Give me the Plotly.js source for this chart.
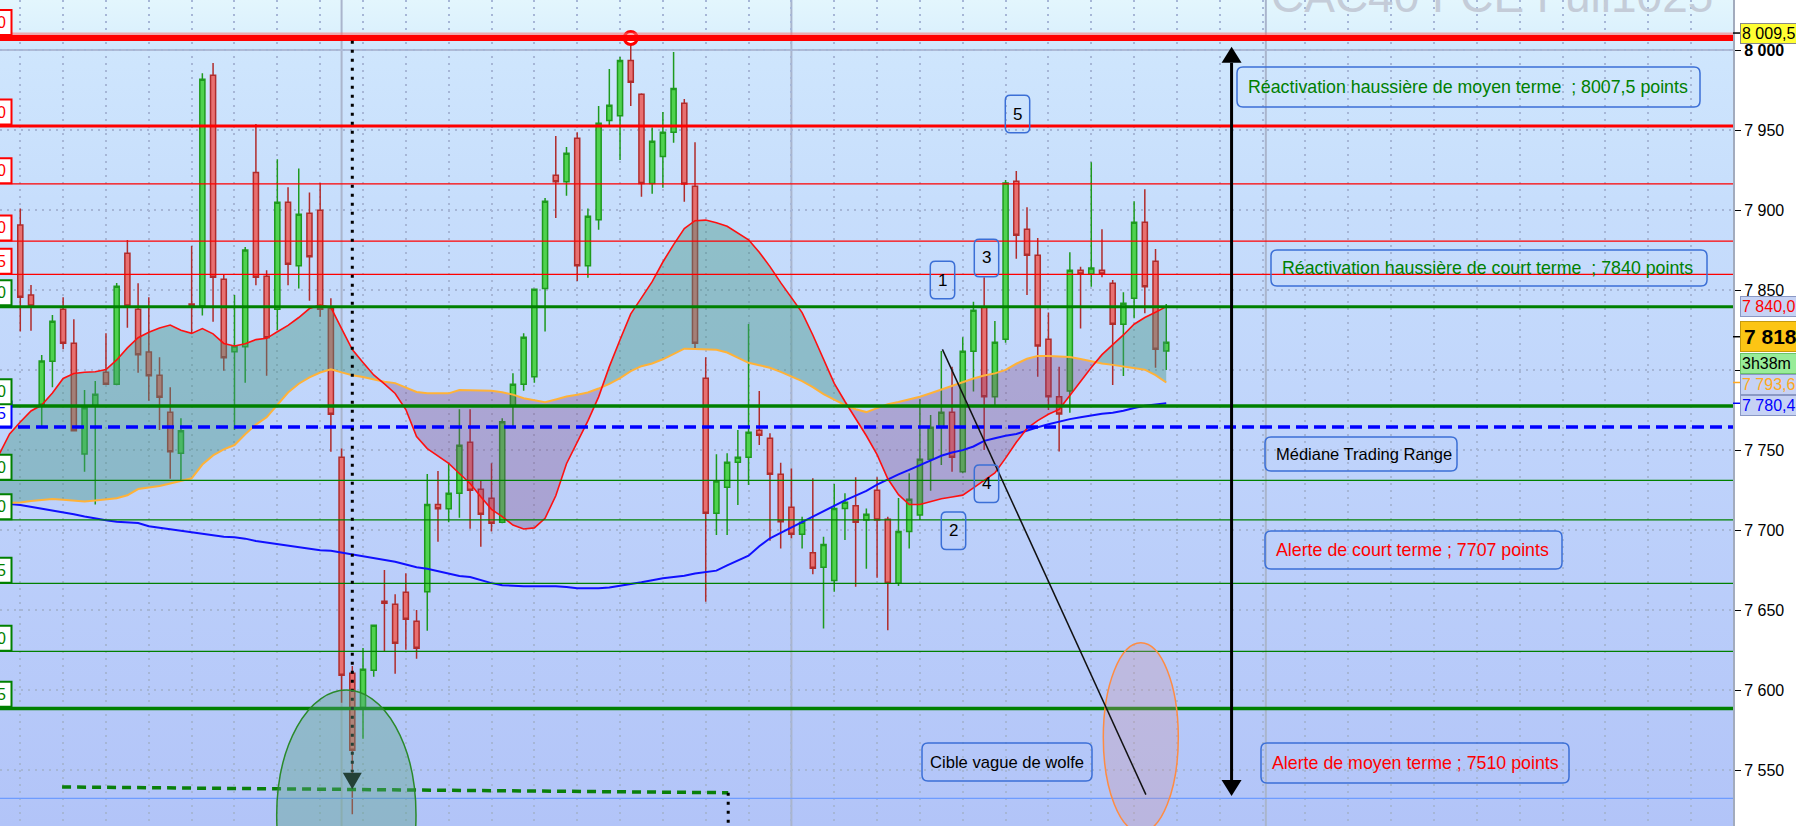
<!DOCTYPE html>
<html><head><meta charset="utf-8">
<script src="https://cdn.plot.ly/plotly-3.0.1.min.js"></script>
<style>
html,body{margin:0;padding:0;background:#fff;}
#chart{width:1796px;height:826px;
background:
 linear-gradient(to right, rgba(255,255,255,0) 1733px, #ffffff 1733px),
 linear-gradient(to bottom, #e3f6fd 0px, #dcf1fd 30px, #cfe6fd 46px, #c7defc 200px, #bed2fb 480px, #b2c4f8 826px);}
</style></head><body><div id="chart"></div>
<script>
// ---------- DATA ----------
const candleOpen = [7890.6, 7846.9, 7778.6, 7805.4, 7837.9, 7816.7, 7747.5, 7777.5, 7798.6, 7791.1,
 7872.9, 7837.9, 7811.3, 7796.7, 7773.6, 7747.9, 7841.3, 7840.0, 7984.2, 7856.7,
 7811.4, 7814.6, 7923.5, 7858.6, 7837.9, 7904.8, 7865.2, 7897.9, 7899.8, 7838.5,
 7745.4, 7610.4, 7589.0, 7612.3, 7655.4, 7653.6, 7661.1, 7642.9, 7661.4, 7716.0,
 7713.3, 7722.9, 7754.8, 7725.4, 7719.8, 7704.8, 7777.5, 7791.1, 7795.8, 7851.0,
 7921.7, 7917.7, 7944.8, 7865.2, 7893.9, 7956.0, 7958.9, 7993.5, 7972.3, 7916.5,
 7933.5, 7948.6, 7966.7, 7914.8, 7794.8, 7710.4, 7726.7, 7742.3, 7745.4, 7762.3,
 7757.3, 7734.8, 7714.2, 7697.3, 7685.8, 7676.7, 7668.5, 7713.5, 7715.2, 7706.3,
 7724.8, 7706.7, 7666.7, 7699.0, 7709.4, 7744.2, 7764.2, 7773.6, 7736.4, 7811.7,
 7839.2, 7783.3, 7819.2, 7917.9, 7887.9, 7871.7, 7819.2, 7783.3, 7786.9, 7862.3,
 7860.0, 7862.3, 7854.2, 7828.6, 7844.8, 7892.3, 7867.9, 7811.9];
const candleHigh = [7901.0, 7853.1, 7809.4, 7834.4, 7845.4, 7831.7, 7787.5, 7793.1, 7822.9, 7854.4,
 7881.3, 7854.2, 7845.4, 7807.9, 7789.2, 7769.8, 7877.5, 7985.4, 7991.9, 7859.8,
 7846.9, 7876.9, 7953.8, 7862.3, 7931.7, 7914.2, 7926.0, 7911.0, 7916.9, 7844.8,
 7751.0, 7615.0, 7626.3, 7641.0, 7675.0, 7659.8, 7672.9, 7650.0, 7735.0, 7736.9,
 7741.7, 7775.4, 7775.4, 7730.6, 7741.7, 7769.8, 7798.0, 7822.9, 7851.0, 7907.5,
 7946.3, 7939.4, 7948.6, 7901.0, 7965.0, 7988.1, 7995.6, 8007.5, 7972.9, 7951.5,
 7961.3, 7998.8, 7969.4, 7942.3, 7807.9, 7747.3, 7747.9, 7762.5, 7828.8, 7786.9,
 7760.4, 7742.1, 7738.5, 7708.3, 7732.3, 7695.8, 7728.8, 7722.9, 7732.9, 7713.5,
 7732.9, 7708.3, 7720.0, 7735.4, 7781.7, 7771.9, 7811.9, 7802.1, 7820.4, 7842.7,
 7858.0, 7830.6, 7918.8, 7924.4, 7901.7, 7882.5, 7836.0, 7802.0, 7873.6, 7864.6,
 7929.8, 7887.9, 7856.3, 7848.6, 7905.4, 7912.9, 7875.6, 7841.3];
const candleLow = [7824.0, 7824.6, 7764.6, 7789.2, 7812.9, 7761.5, 7736.4, 7716.0, 7790.6, 7790.5,
 7826.4, 7798.3, 7780.8, 7762.5, 7732.1, 7731.3, 7823.0, 7834.0, 7830.2, 7799.6,
 7762.5, 7792.0, 7853.0, 7796.4, 7825.0, 7853.0, 7851.0, 7843.3, 7833.3, 7748.9,
 7592.0, 7522.3, 7569.6, 7608.3, 7624.4, 7610.2, 7625.2, 7619.6, 7637.0, 7692.7,
 7704.8, 7707.7, 7700.8, 7689.6, 7699.0, 7704.2, 7764.6, 7787.1, 7792.0, 7824.0,
 7895.0, 7908.9, 7855.6, 7857.7, 7887.7, 7953.1, 7931.3, 7965.0, 7908.3, 7910.2,
 7913.9, 7942.1, 7905.2, 7812.5, 7655.2, 7696.9, 7696.9, 7715.6, 7728.1, 7753.1,
 7693.3, 7688.5, 7694.8, 7688.5, 7672.3, 7638.5, 7661.4, 7693.8, 7664.6, 7675.8,
 7670.2, 7637.3, 7665.0, 7688.5, 7706.3, 7724.6, 7740.6, 7736.4, 7735.4, 7786.5,
 7750.0, 7777.0, 7817.0, 7869.6, 7846.9, 7795.8, 7775.0, 7749.0, 7773.3, 7826.0,
 7852.0, 7858.0, 7790.6, 7796.3, 7832.3, 7835.4, 7801.4, 7800.0];
const candleClose = [7845.4, 7840.0, 7805.6, 7830.4, 7816.7, 7762.1, 7776.4, 7784.8, 7791.1, 7852.3,
 7840.0, 7809.6, 7796.4, 7782.9, 7748.9, 7762.1, 7840.0, 7981.7, 7857.9, 7807.7,
 7815.0, 7875.0, 7857.9, 7820.2, 7904.8, 7866.1, 7897.3, 7870.8, 7837.9, 7772.3,
 7609.2, 7562.3, 7612.9, 7640.4, 7654.2, 7629.2, 7644.2, 7626.1, 7716.0, 7713.3,
 7722.9, 7752.9, 7724.8, 7709.8, 7704.2, 7767.7, 7791.1, 7820.4, 7850.4, 7905.4,
 7917.7, 7935.4, 7865.2, 7896.1, 7954.2, 7965.4, 7993.5, 7979.8, 7916.5, 7942.9,
 7948.6, 7976.0, 7916.3, 7816.7, 7710.4, 7730.6, 7742.3, 7745.4, 7761.1, 7759.2,
 7734.8, 7705.2, 7697.3, 7704.8, 7676.1, 7691.0, 7713.5, 7717.3, 7704.8, 7709.8,
 7706.3, 7666.7, 7699.0, 7719.2, 7744.2, 7764.2, 7773.6, 7745.4, 7811.7, 7837.3,
 7783.3, 7817.3, 7916.9, 7884.2, 7871.7, 7815.0, 7783.3, 7772.5, 7862.3, 7860.0,
 7863.8, 7860.0, 7828.6, 7841.7, 7892.3, 7852.0, 7812.9, 7817.3];

// moving averages, one value per bar from bar -2 to bar 107
const maFast = [7746.9, 7760.0, 7767.5, 7774.4, 7778.1, 7785.6, 7794.7, 7797.8, 7798.6, 7798.9,
 7800.3, 7806.3, 7813.8, 7820.2, 7823.6, 7826.3, 7828.1, 7824.8, 7822.9, 7825.9,
 7822.6, 7816.6, 7815.0, 7816.4, 7819.0, 7819.8, 7823.9, 7827.9, 7832.8, 7838.4,
 7840.6, 7839.1, 7825.9, 7812.8, 7804.7, 7796.9, 7791.3, 7785.3, 7775.3, 7758.4,
 7750.9, 7746.1, 7741.6, 7735.3, 7729.1, 7720.8, 7712.9, 7708.4, 7703.1, 7700.6,
 7701.3, 7707.3, 7721.4, 7741.4, 7754.8, 7768.2, 7783.2, 7802.1, 7818.9, 7835.1,
 7845.1, 7855.2, 7867.5, 7878.4, 7888.4, 7893.3, 7893.7, 7892.0, 7889.8, 7885.7,
 7881.4, 7873.6, 7864.6, 7854.6, 7845.4, 7835.9, 7821.9, 7806.8, 7791.6, 7780.3,
 7769.4, 7758.9, 7747.1, 7732.0, 7722.1, 7715.9, 7715.9, 7717.8, 7719.5, 7720.6,
 7721.8, 7726.3, 7731.0, 7735.7, 7744.9, 7754.8, 7763.5, 7768.4, 7772.3, 7775.4,
 7784.1, 7793.1, 7801.6, 7809.6, 7815.6, 7821.9, 7828.6, 7832.8, 7836.1, 7839.6];
const maMid = [7716.9, 7716.9, 7717.2, 7718.1, 7718.6, 7719.4, 7718.9, 7718.3, 7717.8, 7718.4,
 7719.3, 7719.8, 7721.7, 7725.6, 7726.6, 7727.5, 7729.1, 7730.6, 7732.3, 7740.9,
 7746.6, 7750.4, 7753.1, 7759.8, 7765.9, 7770.4, 7778.4, 7785.9, 7791.4, 7795.4,
 7798.4, 7800.4, 7798.5, 7796.7, 7795.6, 7794.1, 7792.6, 7791.8, 7788.8, 7786.3,
 7785.4, 7785.4, 7785.4, 7787.5, 7787.4, 7787.3, 7787.1, 7786.1, 7784.6, 7782.3,
 7780.9, 7779.8, 7781.6, 7783.4, 7784.5, 7785.9, 7788.4, 7791.3, 7794.9, 7799.3,
 7802.4, 7804.1, 7806.7, 7809.9, 7813.3, 7813.2, 7812.8, 7812.6, 7810.9, 7807.6,
 7804.5, 7803.0, 7801.4, 7798.8, 7795.9, 7793.1, 7789.3, 7784.9, 7781.5, 7778.1,
 7775.5, 7773.7, 7776.2, 7778.6, 7780.0, 7781.5, 7783.3, 7785.5, 7787.9, 7790.1,
 7792.3, 7794.7, 7796.6, 7797.9, 7800.1, 7803.9, 7807.0, 7808.8, 7808.8, 7808.5,
 7808.1, 7806.9, 7805.4, 7804.0, 7803.2, 7802.3, 7801.3, 7800.2, 7796.8, 7792.2];
const maSlow = [7716.3, 7716.3, 7715.6, 7714.5, 7713.4, 7712.3, 7711.1, 7709.9, 7708.5, 7707.1,
 7706.1, 7705.2, 7704.8, 7704.4, 7702.3, 7701.4, 7700.7, 7699.8, 7698.8, 7697.7,
 7696.7, 7695.8, 7695.5, 7694.6, 7693.1, 7692.1, 7691.1, 7690.3, 7689.1, 7688.2,
 7687.3, 7687.1, 7685.9, 7684.8, 7683.6, 7682.6, 7681.1, 7680.1, 7678.4, 7676.7,
 7675.8, 7674.2, 7673.0, 7671.2, 7670.6, 7668.8, 7666.8, 7665.5, 7665.1, 7664.8,
 7664.8, 7664.8, 7664.8, 7664.3, 7663.6, 7663.6, 7663.6, 7664.1, 7665.4, 7666.3,
 7667.3, 7668.7, 7669.8, 7670.6, 7671.4, 7672.8, 7673.8, 7674.6, 7677.9, 7681.1,
 7683.9, 7689.8, 7694.8, 7698.2, 7701.6, 7705.4, 7708.6, 7712.1, 7715.4, 7718.5,
 7721.5, 7724.5, 7728.4, 7731.8, 7734.8, 7737.6, 7740.4, 7743.4, 7746.4, 7748.4,
 7749.9, 7752.2, 7755.7, 7757.3, 7758.9, 7760.0, 7762.2, 7764.2, 7766.1, 7767.9,
 7769.3, 7770.4, 7771.6, 7772.6, 7773.3, 7774.5, 7776.3, 7777.6, 7778.4, 7779.2];

const redLevels   = [8007.5, 7952.5, 7916.3, 7880.6, 7859.8];
const redTagDigits = ['0', '0', '0', '0', '5'];
const greenLevels = [7839.6, 7777.5, 7731.0, 7706.3, 7666.7, 7624.2, 7588.5];
const greenTagDigits = ['0', '0', '0', '0', '5', '0', '5'];
const medianLevel = 7764.4;
const lowLineLevel = 7532.3;
const greenDashStart = [3.9, 7539.4];
const greenDashEnd = [66.1, 7535.8];
const wolfeLine = [[86.1, 7812.9], [105.1, 7534.6]];
const dropArrow = {bar: 31, from: 8005.8, to: 7537.9};
const rangeArrow = {bar: 113.1, top: 8002.1, bottom: 7533.8};
const sessionBreaks = [30, 72, 116.3];

const yTickVals = [7550, 7600, 7650, 7700, 7750, 7800, 7850, 7900, 7950, 8000];
const yTickText = ['7 550', '7 600', '7 650', '7 700', '7 750', '7 800', '7 850', '7 900', '7 950', '<b>8 000</b>'];

const noteTexts = ['Réactivation haussière de moyen terme  ; 8007,5 points',
  'Réactivation haussière de court terme  ; 7840 points',
  'Médiane Trading Range',
  'Alerte de court terme ; 7707 points',
  'Alerte de moyen terme ; 7510 points',
  'Cible vague de wolfe'];
const waveLabels = ['1', '2', '3', '4', '5'];
const priceTags = ['8 009,5', '7 840,0', '7 818', '3h38m', '7 793,6', '7 780,4'];
const watermark = 'CAC40 FCE Full1025';

// ---------- GEOMETRY ----------
const PW = 1733, PH = 826;
const xr = [-1.895, 159.92], yr = [7515, 8031.25];
const candleIdx = candleOpen.map((_, i) => i);
const maIdx = maFast.map((_, i) => i - 2);
const FONT = 'Arial, "Liberation Sans", sans-serif';
const pxX = px => xr[0] + px * (xr[1] - xr[0]) / PW;
const pxY = py => yr[1] - py * (yr[1] - yr[0]) / PH;
const dxPerPx = (xr[1] - xr[0]) / PW, dyPerPx = (yr[1] - yr[0]) / PH;
function P(px, py) { return (px / PW).toFixed(5) + ',' + (1 - py / PH).toFixed(5); }
function rr(x0, y0, x1, y1, r) {
  return 'M' + P(x0 + r, y0) + ' L' + P(x1 - r, y0) + ' Q' + P(x1, y0) + ' ' + P(x1, y0 + r) +
    ' L' + P(x1, y1 - r) + ' Q' + P(x1, y1) + ' ' + P(x1 - r, y1) +
    ' L' + P(x0 + r, y1) + ' Q' + P(x0, y1) + ' ' + P(x0, y1 - r) +
    ' L' + P(x0, y0 + r) + ' Q' + P(x0, y0) + ' ' + P(x0 + r, y0) + ' Z';
}

// ---------- FILL BETWEEN FAST AND MID ----------
const fx = [], fMid = [], fUp = [], fLo = [];
for (let k = 0; k < maIdx.length; k++) {
  if (k > 0) {
    const d0 = maFast[k - 1] - maMid[k - 1], d1 = maFast[k] - maMid[k];
    if (d0 * d1 < 0) {
      const t = d0 / (d0 - d1);
      const xc = maIdx[k - 1] + t * (maIdx[k] - maIdx[k - 1]);
      const yc = maMid[k - 1] + t * (maMid[k] - maMid[k - 1]);
      fx.push(xc); fMid.push(yc); fUp.push(yc); fLo.push(yc);
    }
  }
  fx.push(maIdx[k]); fMid.push(maMid[k]);
  fUp.push(Math.max(maFast[k], maMid[k])); fLo.push(Math.min(maFast[k], maMid[k]));
}

const traces = [
  {x: fx, y: fMid, mode: 'lines', line: {width: 0}, hoverinfo: 'skip'},
  {x: fx, y: fUp, mode: 'lines', line: {width: 0}, fill: 'tonexty', fillcolor: 'rgba(70,150,130,0.42)', hoverinfo: 'skip'},
  {x: fx, y: fMid, mode: 'lines', line: {width: 0}, hoverinfo: 'skip'},
  {x: fx, y: fLo, mode: 'lines', line: {width: 0}, fill: 'tonexty', fillcolor: 'rgba(128,64,128,0.32)', hoverinfo: 'skip'},
  {type: 'candlestick', x: candleIdx, open: candleOpen, high: candleHigh, low: candleLow, close: candleClose,
   increasing: {line: {color: '#1e9a1e', width: 1.5}, fillcolor: '#4fd24f'},
   decreasing: {line: {color: '#b02c2c', width: 1.5}, fillcolor: '#e87070'},
   whiskerwidth: 0, hoverinfo: 'skip'},
  {x: maIdx, y: maSlow, mode: 'lines', line: {color: '#1010ff', width: 2}, hoverinfo: 'skip'},
  {x: maIdx, y: maMid, mode: 'lines', line: {color: '#ffb238', width: 2}, hoverinfo: 'skip'},
  {x: maIdx, y: maFast, mode: 'lines', line: {color: '#ff1010', width: 1.6}, hoverinfo: 'skip'},
  {x: [57], y: [redLevels[0]], mode: 'markers', marker: {size: 13, color: '#ffffff', line: {color: '#ff0000', width: 3}}, hoverinfo: 'skip'}
];

// ---------- SHAPES ----------
const shapes = [];
sessionBreaks.forEach(b => shapes.push({type: 'line', xref: 'x', yref: 'paper', x0: b, x1: b, y0: 0, y1: 1, line: {color: '#aab5cc', width: 2}, layer: 'below'}));
shapes.push({type: 'line', xref: 'paper', yref: 'y', x0: 0, x1: 1, y0: 8000, y1: 8000, line: {color: '#aebad6', width: 2}, layer: 'below'});

const redW = [6, 3, 1.3, 1.3, 1.3];
const greenW = [3, 3.5, 1.3, 1.3, 1.3, 1.3, 3.5];
shapes.push({type: 'line', xref: 'paper', yref: 'y', x0: 0, x1: 1, y0: redLevels[0] + 2.2, y1: redLevels[0] + 2.2, line: {color: 'rgba(255,110,110,0.55)', width: 4}, layer: 'above'});
redLevels.forEach((p, i) => shapes.push({type: 'line', xref: 'paper', yref: 'y', x0: 0, x1: 1, y0: p, y1: p, line: {color: '#ff0000', width: redW[i]}, layer: 'above'}));
greenLevels.forEach((p, i) => shapes.push({type: 'line', xref: 'paper', yref: 'y', x0: 0, x1: 1, y0: p, y1: p, line: {color: '#008000', width: greenW[i]}, layer: 'above'}));
shapes.push({type: 'line', xref: 'paper', yref: 'y', x0: 0, x1: 1, y0: medianLevel, y1: medianLevel, line: {color: '#0000ff', width: 3.5, dash: '12px,6px'}, layer: 'above'});
shapes.push({type: 'line', xref: 'paper', yref: 'y', x0: 0, x1: 1, y0: lowLineLevel, y1: lowLineLevel, line: {color: '#6e9cff', width: 1.3}, layer: 'above'});
shapes.push({type: 'line', xref: 'x', yref: 'y', x0: greenDashStart[0], y0: greenDashStart[1], x1: greenDashEnd[0], y1: greenDashEnd[1], line: {color: '#0a800a', width: 3.5, dash: '9px,6px'}, layer: 'above'});
// dotted drop line + arrowhead
shapes.push({type: 'line', xref: 'x', yref: 'y', x0: dropArrow.bar, x1: dropArrow.bar, y0: dropArrow.from, y1: dropArrow.to + 17 * dyPerPx, line: {color: '#000', width: 3, dash: '3px,6px'}, layer: 'above'});
{
  const hx = 9.5 * dxPerPx, tipY = dropArrow.to, baseY = dropArrow.to + 16.5 * dyPerPx;
  shapes.push({type: 'path', xref: 'x', yref: 'y', path: `M${dropArrow.bar - hx},${baseY} L${dropArrow.bar + hx},${baseY} L${dropArrow.bar},${tipY} Z`, fillcolor: '#000', line: {width: 0}, layer: 'above'});
}
shapes.push({type: 'line', xref: 'x', yref: 'y', x0: greenDashEnd[0], x1: greenDashEnd[0], y0: greenDashEnd[1], y1: 7500, line: {color: '#000', width: 3, dash: '3px,6px'}, layer: 'above'});
// ellipses
shapes.push({type: 'circle', xref: 'x', yref: 'y', x0: pxX(276.7), x1: pxX(416), y0: pxY(690), y1: pxY(940), fillcolor: 'rgba(90,163,135,0.4)', line: {color: '#2a8a2a', width: 1.5}, layer: 'above'});
shapes.push({type: 'circle', xref: 'x', yref: 'y', x0: pxX(1103.3), x1: pxX(1178.3), y0: pxY(642.7), y1: pxY(832), fillcolor: 'rgba(205,150,165,0.3)', line: {color: '#ff8c42', width: 1.5}, layer: 'above'});
// wolfe line
shapes.push({type: 'line', xref: 'x', yref: 'y', x0: wolfeLine[0][0], y0: wolfeLine[0][1], x1: wolfeLine[1][0], y1: wolfeLine[1][1], line: {color: '#111', width: 1.5}, layer: 'above'});
// range arrow
{
  const b = rangeArrow.bar, hx = 10 * dxPerPx, hh = 16 * dyPerPx;
  shapes.push({type: 'line', xref: 'x', yref: 'y', x0: b, x1: b, y0: rangeArrow.top - hh, y1: rangeArrow.bottom + hh, line: {color: '#000', width: 3}, layer: 'above'});
  shapes.push({type: 'path', xref: 'x', yref: 'y', path: `M${b - hx},${rangeArrow.top - hh} L${b + hx},${rangeArrow.top - hh} L${b},${rangeArrow.top} Z`, fillcolor: '#000', line: {width: 0}, layer: 'above'});
  shapes.push({type: 'path', xref: 'x', yref: 'y', path: `M${b - hx},${rangeArrow.bottom + hh} L${b + hx},${rangeArrow.bottom + hh} L${b},${rangeArrow.bottom} Z`, fillcolor: '#000', line: {width: 0}, layer: 'above'});
}

// ---------- ANNOTATIONS ----------
const annotations = [];
// left tags
function leftTag(p, lw, digit, col) {
  const yb = p + (lw / 2) * dyPerPx, yt = yb + 25 * dyPerPx;
  shapes.push({type: 'rect', xref: 'paper', yref: 'y', x0: -0.01, x1: 11.5 / PW, y0: yb, y1: yt, fillcolor: '#ffffff', line: {color: col, width: 2}, layer: 'above'});
  annotations.push({xref: 'paper', yref: 'y', x: 0, xanchor: 'left', xshift: -5, y: (yb + yt) / 2, yanchor: 'middle', text: digit, showarrow: false, font: {family: FONT, size: 16, color: col}});
}
leftTag(medianLevel, 1, '5', '#0000ff');
redLevels.forEach((p, i) => leftTag(p, redW[i], redTagDigits[i], '#ff0000'));
greenLevels.forEach((p, i) => leftTag(p, greenW[i], greenTagDigits[i], '#008000'));

// note boxes (pixel layout)
const noteBoxes = [[1237, 67, 1700, 107, '#008000', 'left', 17.8], [1271, 250, 1707, 286, '#008000', 'left', 17.8], [1265, 437, 1457, 471, '#000000', 'left', 16.5],
  [1265, 531, 1562, 569, '#ff0000', 'left', 17.8], [1261, 743, 1569, 783, '#ff0000', 'left', 17.8], [922, 743, 1092, 781, '#000000', 'center', 16.6]];
noteBoxes.forEach((b, i) => {
  shapes.push({type: 'path', xref: 'paper', yref: 'paper', path: rr(b[0], b[1], b[2], b[3], 6), line: {color: '#3b6fd6', width: 1.5}, fillcolor: 'rgba(255,255,255,0)', layer: 'above'});
  annotations.push({xref: 'paper', yref: 'paper', x: b[5] === 'left' ? (b[0] + 9) / PW : ((b[0] + b[2]) / 2) / PW, xanchor: b[5], y: 1 - ((b[1] + b[3]) / 2) / PH, yanchor: 'middle', text: noteTexts[i], showarrow: false, font: {family: FONT, size: b[6], color: b[4]}});
});
// wave number boxes
const waveBoxes = [[930.3, 261.3], [941.3, 512], [974.3, 239.3], [974.3, 465], [1005.3, 95.3]];
waveBoxes.forEach((b, i) => {
  shapes.push({type: 'path', xref: 'paper', yref: 'paper', path: rr(b[0], b[1], b[0] + 24.4, b[1] + 37.5, 5), line: {color: '#3b6fd6', width: 1.5}, fillcolor: 'rgba(255,255,255,0)', layer: 'above'});
  annotations.push({xref: 'paper', yref: 'paper', x: (b[0] + 12.2) / PW, xanchor: 'center', y: 1 - (b[1] + 18.7) / PH, yanchor: 'middle', text: waveLabels[i], showarrow: false, font: {family: FONT, size: 17, color: '#000'}});
});
// right price tags
const tagStyles = [
  {p: 8010.6, bg: '#ffff33', bc: '#888888', fc: '#000', size: 16, bold: false},
  {p: 7839.4, bg: '#c6d2f4', bc: '#8a98c4', fc: '#ff0000', size: 16, bold: false},
  {p: 7820.8, bg: '#fcc514', bc: '#c49a10', fc: '#000', size: 21, bold: true},
  {p: 7804.0, bg: '#98ec98', bc: '#6ac46a', fc: '#000', size: 16, bold: false},
  {p: 7790.9, bg: '#c6d2f4', bc: '#8a98c4', fc: '#ffa820', size: 16, bold: false},
  {p: 7778.1, bg: '#c6d2f4', bc: '#8a98c4', fc: '#0000ff', size: 16, bold: false}];
[0, 1, 4, 5, 2, 3].forEach(i => {
  const s = tagStyles[i];
  annotations.push({xref: 'paper', yref: 'y', x: 1, xanchor: 'left', xshift: 7, y: s.p, yanchor: 'middle', text: s.bold ? '<b>' + priceTags[i] + '&nbsp;&nbsp;</b>' : priceTags[i] + '&nbsp;&nbsp;', showarrow: false,
    bgcolor: s.bg, bordercolor: s.bc, borderwidth: 1, borderpad: s.bold ? 3 : 1, font: {family: FONT, size: s.size, color: s.fc}});
});
[[8010.6, '#000'], [7792.2, '#ffa820'], [7779.2, '#0000ff'], [7820.8, '#000']].forEach(t => shapes.push({type: 'line', xref: 'paper', yref: 'y', x0: 1, x1: 1 + 7 / PW, y0: t[0], y1: t[0], line: {color: t[1], width: 1.5}, layer: 'above'}));
// watermark
annotations.push({xref: 'paper', yref: 'paper', x: 1269 / PW, xanchor: 'left', y: 1, yanchor: 'middle', yshift: 4, text: watermark, showarrow: false, font: {family: FONT, size: 46, color: '#c4ccd8'}});

const layout = {
  width: 1796, height: 826, margin: {l: 0, r: 63, t: 0, b: 0, pad: 0},
  paper_bgcolor: 'rgba(0,0,0,0)', plot_bgcolor: 'rgba(0,0,0,0)', showlegend: false, boxgap: 0.32,
  xaxis: {range: xr, showticklabels: false, ticks: '', showgrid: true, gridcolor: '#a6b6d6', griddash: '2px,5px', gridwidth: 2,
    tick0: 0, dtick: 4, zeroline: false, showline: false, rangeslider: {visible: false}, fixedrange: true},
  yaxis: {side: 'right', range: yr, tickvals: yTickVals, ticktext: yTickText, ticks: 'outside', ticklen: 6, tickcolor: '#000', tickwidth: 1,
    tickfont: {family: FONT, size: 16, color: '#000'}, showgrid: true, gridcolor: '#a6b6d6', griddash: '2px,5px', gridwidth: 2,
    zeroline: false, showline: true, linecolor: '#a2abbd', linewidth: 2, fixedrange: true},
  shapes: shapes, annotations: annotations
};
Plotly.newPlot('chart', traces, layout, {displayModeBar: false, staticPlot: true});
</script></body></html>
